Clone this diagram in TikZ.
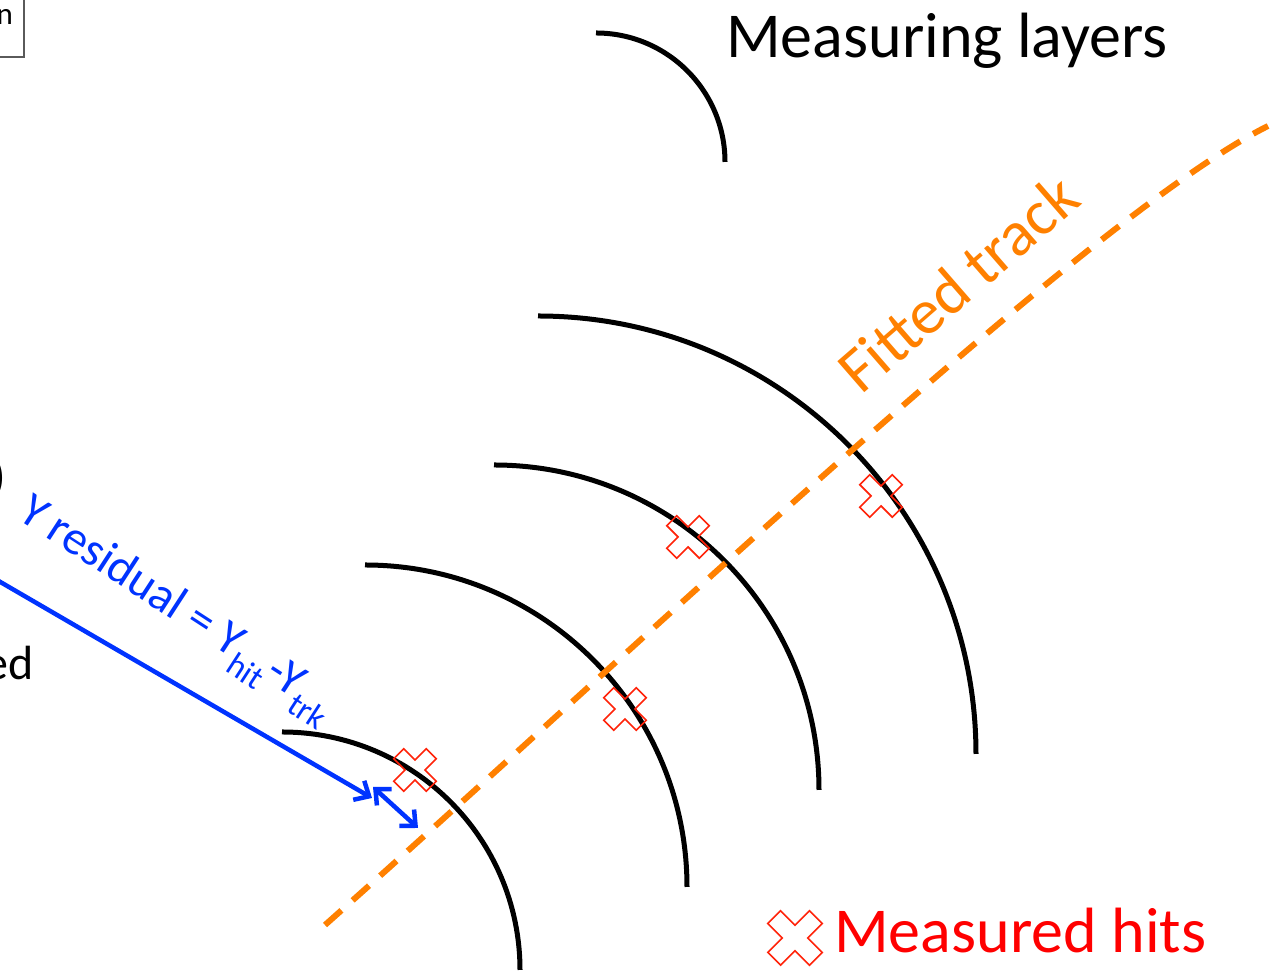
\documentclass[tikz,border=0pt]{standalone}
\usepackage{fontspec}
\setmainfont{Carlito}
\usetikzlibrary{arrows.meta}
\definecolor{trackorange}{RGB}{255,128,0}
\definecolor{resblue}{RGB}{0,51,255}
\definecolor{hitred}{RGB}{255,35,10}
\definecolor{boxgray}{RGB}{90,90,90}
\tikzset{
  layer/.style={line width=5pt, black},
  track/.style={line width=6pt, trackorange, dash pattern=on 22pt off 15pt},
  resline/.style={line width=4.5pt, resblue},
  barb/.tip={Straight Barb[length=12pt, width=22pt]},
  hitline/.style={line width=1.6pt, hitred, line join=miter},
  hit/.pic={\draw[hitline, rotate=45] (-7,-23) -- (7,-23) -- (7,-7) -- (23,-7) -- (23,7) -- (7,7) -- (7,23) -- (-7,23) -- (-7,7) -- (-23,7) -- (-23,-7) -- (-7,-7) -- cycle;},
  lbl/.style={inner sep=0pt}
}
\begin{document}
\begin{tikzpicture}[x=1pt,y=1pt]
\useasboundingbox (0,0) rectangle (1270,973);

% cropped box top-left
\draw[boxgray, line width=1.2pt] (-60,916) rectangle (24,1000);
\node[lbl, anchor=base east] (boxn) at (13,948) {\fontsize{31}{36}\selectfont n};

% partial texts at left edge
\node[lbl, anchor=east] (paren) at (6,495) {\fontsize{48}{56}\selectfont )};
\node[lbl, anchor=base east] (ed) at (34,293) {\fontsize{48}{56}\selectfont ed};

% measuring layers (arcs)
\draw[layer] (596,940) arc[start angle=90, end angle=0, radius=129];
\draw[layer] (538,657) arc[start angle=90, end angle=0, radius=438];
\draw[layer] (494,508) arc[start angle=90, end angle=0, radius=325];
\draw[layer] (365,408) arc[start angle=90, end angle=0, radius=322];
\draw[layer] (282,241) arc[start angle=90, end angle=0, radius=238];

% fitted track
\coordinate (tA) at (325,48);
\coordinate (c1) at (640,328);
\coordinate (c2) at (1090,758);
\coordinate (tB) at (1268,847);
\draw[track] (tA) .. controls (c1) and (c2) .. (tB);

% measured hits
\pic at (415,203) {hit};
\pic at (625,264) {hit};
\pic at (688,436) {hit};
\pic at (881,477) {hit};
\pic[scale=1.28] at (795,35) {hit};

% residual arrows
\coordinate (bs) at (-10,397);
\coordinate (bt) at (372,175);
\draw[resline, -{barb}] (bs) -- (bt);
\coordinate (da) at (373,186);
\coordinate (db) at (418,145);
\draw[resline, {barb}-{barb}] (da) -- (db);

% labels
\node[lbl, anchor=base west] (title) at (726,915) {\fontsize{64}{76}\selectfont Measuring layers};
\node[lbl, anchor=base west, text=red] (hits) at (834,20) {\fontsize{64}{76}\selectfont Measured hits};
\node[lbl, rotate=41, text=trackorange] (fit) at (958,690) {\fontsize{64}{76}\selectfont Fitted track};
\node[lbl, rotate=-33, anchor=base west, text=resblue] (res) at (16,455) {\fontsize{48}{56}\selectfont Y residual = Y\textsubscript{hit}-Y\textsubscript{trk}};
\end{tikzpicture}
\end{document}
